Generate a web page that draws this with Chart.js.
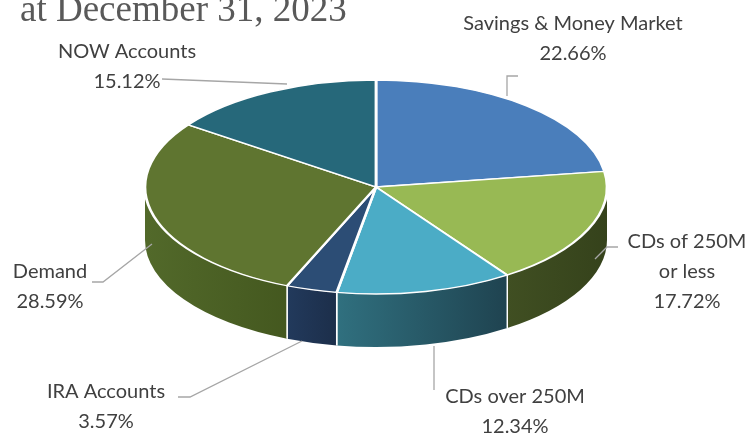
<!DOCTYPE html>
<html>
<head>
    <title>Deposit mix</title>
    <meta charset="UTF-8">
    <script src="https://cdn.jsdelivr.net/npm/chart.js@4.4.1/dist/chart.umd.min.js"></script>
    <style>
        body { margin: 0; background: #fff; }
        #wrap { position: relative; width: 752px; height: 434px; }
    </style>
</head>
<body>
    <div id="wrap"><canvas id="depChart"></canvas></div>
    <script>
        // data
        const categories = ['Savings & Money Market', 'CDs of 250M or less', 'CDs over 250M', 'IRA Accounts', 'Demand', 'NOW Accounts'];
        const shares = [22.66, 17.72, 12.34, 3.57, 28.59, 15.12];
        const labelLines = [
            ['Savings & Money Market', '22.66%'],
            ['CDs of 250M', 'or less', '17.72%'],
            ['CDs over 250M', '12.34%'],
            ['IRA Accounts', '3.57%'],
            ['Demand', '28.59%'],
            ['NOW Accounts', '15.12%']
        ];

        // styles
        const topColors = ['#4a7ebb', '#98b954', '#4bacc6', '#2c4d75', '#5f7530', '#26687a'];
        const sideColors = [['#3b6596', '#2e4f77'], ['#404f22', '#35421b'], ['#30707f', '#1f4350'], ['#223a5c', '#1c2e4a'], ['#52692a', '#44581f'], ['#1f5564', '#1a4652']];

        // 3d look: ellipse on screen
        const ell = { x: 376, y: 187, rx: 231, ry: 107, depth: 53 };

        // where the labels sit, plus leader lines [x,y] points
        const labelPlace = [
            { x: 573, y: 24, line: [[518, 76], [507, 76], [507, 96]] },
            { x: 687, y: 242, line: [[618, 247], [607, 247], [595, 259]] },
            { x: 515, y: 397, line: [[434, 390], [434, 346]] },
            { x: 106, y: 392, line: [[178, 397], [190, 397], [302, 341]] },
            { x: 50, y: 272, line: [[92, 282], [103, 282], [152, 244]] },
            { x: 127, y: 52, line: [[162, 79], [287, 84]] }
        ];

        function scr(a, dy) {
            return [ell.x + ell.rx * Math.cos(a), ell.y + ell.ry * Math.sin(a) + (dy || 0)];
        }

        const pie3d = {
            id: 'pie3d',
            beforeDatasetsDraw(chart) {
                const ctx = chart.ctx;
                const arcs = chart.getDatasetMeta(0).data;
                // side walls, only the front half shows
                arcs.forEach((el, i) => {
                    const s = Math.max(el.startAngle, 0);
                    const e = Math.min(el.endAngle, Math.PI);
                    if (e <= s) return;
                    const p1 = scr(s), p2 = scr(e);
                    const xs = Math.min(p1[0], p2[0]), xe = Math.max(p1[0], p2[0]);
                    const g = ctx.createLinearGradient(xs, 0, xe, 0);
                    g.addColorStop(0, sideColors[i][0]);
                    g.addColorStop(1, sideColors[i][1]);
                    ctx.save();
                    ctx.beginPath();
                    ctx.ellipse(ell.x, ell.y, ell.rx, ell.ry, 0, s, e);
                    ctx.ellipse(ell.x, ell.y + ell.depth, ell.rx, ell.ry, 0, e, s, true);
                    ctx.closePath();
                    ctx.fillStyle = g;
                    ctx.fill();
                    ctx.strokeStyle = '#ffffff';
                    ctx.lineWidth = 1.5;
                    [s, e].forEach(a => {
                        if (a <= 0.001 || a >= Math.PI - 0.001) return;
                        const p = scr(a);
                        ctx.beginPath();
                        ctx.moveTo(p[0], p[1]);
                        ctx.lineTo(p[0], p[1] + ell.depth);
                        ctx.stroke();
                    });
                    ctx.restore();
                });
                // squash the flat pie into the top ellipse
                const a0 = arcs[0];
                ctx.save();
                ctx.translate(ell.x, ell.y);
                ctx.scale(ell.rx / a0.outerRadius, ell.ry / a0.outerRadius);
                ctx.translate(-a0.x, -a0.y);
            },
            afterDatasetsDraw(chart) {
                chart.ctx.restore();
            },
            afterDraw(chart) {
                const ctx = chart.ctx;
                ctx.save();
                ctx.strokeStyle = '#a6a6a6';
                ctx.lineWidth = 1.3;
                labelPlace.forEach((lp, i) => {
                    ctx.beginPath();
                    lp.line.forEach((p, k) => k ? ctx.lineTo(p[0], p[1]) : ctx.moveTo(p[0], p[1]));
                    ctx.stroke();
                    ctx.fillStyle = '#404040';
                    ctx.font = '20px Lato';
                    ctx.textAlign = 'center';
                    ctx.textBaseline = 'middle';
                    labelLines[i].forEach((t, k) => ctx.fillText(t, lp.x, lp.y + k * 30));
                });
                // title, cut off at the top like the picture
                ctx.fillStyle = '#595959';
                ctx.font = '37px "Liberation Serif"';
                ctx.textAlign = 'left';
                ctx.textBaseline = 'alphabetic';
                ctx.fillText('at December 31, 2023', 20, 21);
                ctx.restore();
            }
        };

        new Chart(document.getElementById('depChart'), {
            type: 'pie',
            data: {
                labels: categories,
                datasets: [{
                    data: shares,
                    backgroundColor: topColors,
                    borderColor: '#ffffff',
                    borderWidth: 2.5,
                    hoverOffset: 0
                }]
            },
            options: {
                responsive: true,
                maintainAspectRatio: false,
                animation: false,
                events: [],
                layout: { padding: 10 },
                plugins: {
                    legend: { display: false },
                    tooltip: { enabled: false }
                }
            },
            plugins: [pie3d]
        });
    </script>
</body>
</html>
